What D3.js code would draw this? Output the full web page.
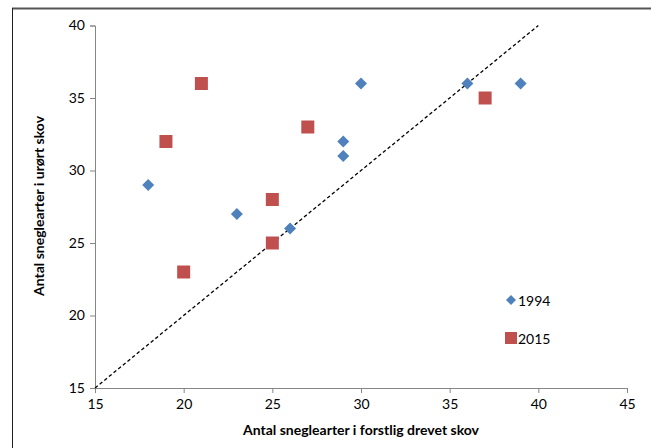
<!DOCTYPE html>
<html>
<head>
<meta charset="utf-8">
<script src="https://cdn.jsdelivr.net/npm/d3@7"></script>
<style>
body { margin:0; background:#fff; }
text { font-family: Lato, "Open Sans", sans-serif; }
</style>
</head>
<body>
<div id="graph"></div>
<script>
// data
const xTicks = [15, 20, 25, 30, 35, 40, 45];
const yTicks = [15, 20, 25, 30, 35, 40];
const x1994 = [18, 23, 26, 29, 29, 30, 36, 39];
const y1994 = [29, 27, 26, 32, 31, 36, 36, 36];
const x2015 = [19, 21, 20, 25, 25, 27, 37];
const y2015 = [32, 36, 23, 28, 25, 33, 35];
const refLine = [[15, 15], [40, 40]];

const width = 651, height = 448;
const padding = {left: 95, right: 24, top: 25.5, bottom: 60};

const graph = d3.select("div#graph").append("svg")
	.attr("width", width)
	.attr("height", height);

// frame
graph.append("line").attr("x1", 12).attr("x2", width).attr("y1", 8.5).attr("y2", 8.5)
	.attr("stroke", "#555").attr("stroke-width", 2);
graph.append("line").attr("x1", 12.5).attr("x2", 12.5).attr("y1", 8).attr("y2", height)
	.attr("stroke", "#222").attr("stroke-width", 1);

const xScale = d3.scaleLinear().domain([15, 45]).range([padding.left, width - padding.right]);
const yScale = d3.scaleLinear().domain([15, 40]).range([height - padding.bottom, padding.top]);

const xAxis = d3.axisBottom(xScale).tickValues(xTicks).tickSize(5).tickSizeOuter(5).tickPadding(6);
const yAxis = d3.axisLeft(yScale).tickValues(yTicks).tickSize(5).tickSizeOuter(5).tickPadding(5);

const gx = graph.append("g")
	.attr("transform", `translate(0, ${height - padding.bottom})`)
	.call(xAxis);
const gy = graph.append("g")
	.attr("transform", `translate(${padding.left}, 0)`)
	.call(yAxis);

[gx, gy].forEach(g => {
	g.select(".domain").attr("stroke", "#868686");
	g.selectAll(".tick line").attr("stroke", "#868686");
	g.selectAll("text").attr("font-size", 14).attr("fill", "#000")
		.style("font-family", "Lato, 'Open Sans', sans-serif");
});

// reference line
graph.append("path").datum(refLine)
	.attr("fill", "none")
	.attr("stroke", "#000")
	.attr("stroke-width", 1.3)
	.attr("stroke-dasharray", "3.5,2.5")
	.attr("d", d3.line().x(d => xScale(d[0])).y(d => yScale(d[1])));

const diamond = d3.symbol().type(d3.symbolSquare).size(72);

graph.selectAll("path.p1994").data(x1994)
	.enter().append("path")
	.attr("class", "p1994")
	.attr("d", diamond)
	.attr("transform", (d, i) => `translate(${xScale(d)},${yScale(y1994[i])}) rotate(45)`)
	.attr("fill", "#4F81BD");

graph.selectAll("rect.p2015").data(x2015)
	.enter().append("rect")
	.attr("class", "p2015")
	.attr("x", d => xScale(d) - 6.5)
	.attr("y", (d, i) => yScale(y2015[i]) - 6.5)
	.attr("width", 13).attr("height", 13)
	.attr("fill", "#C0504D");

// legend
const legend = graph.append("g").attr("transform", "translate(511, 300)");
legend.append("path").attr("d", d3.symbol().type(d3.symbolSquare).size(50))
	.attr("transform", "rotate(45)").attr("fill", "#4F81BD");
legend.append("text").attr("x", 7).attr("y", 5.5).attr("font-size", 14).text("1994");
legend.append("rect").attr("x", -6).attr("y", 32).attr("width", 12).attr("height", 12)
	.attr("fill", "#C0504D");
legend.append("text").attr("x", 7).attr("y", 43.5).attr("font-size", 14).text("2015");

// axis titles
graph.append("text")
	.attr("x", (padding.left + width - padding.right) / 2)
	.attr("y", 435)
	.attr("text-anchor", "middle")
	.attr("font-size", 14).attr("font-weight", "bold")
	.text("Antal sneglearter i forstlig drevet skov");

graph.append("text")
	.attr("transform", "translate(44, 206) rotate(-90)")
	.attr("text-anchor", "middle")
	.attr("font-size", 14).attr("font-weight", "bold")
	.text("Antal sneglearter i urørt skov");
</script>
</body>
</html>
